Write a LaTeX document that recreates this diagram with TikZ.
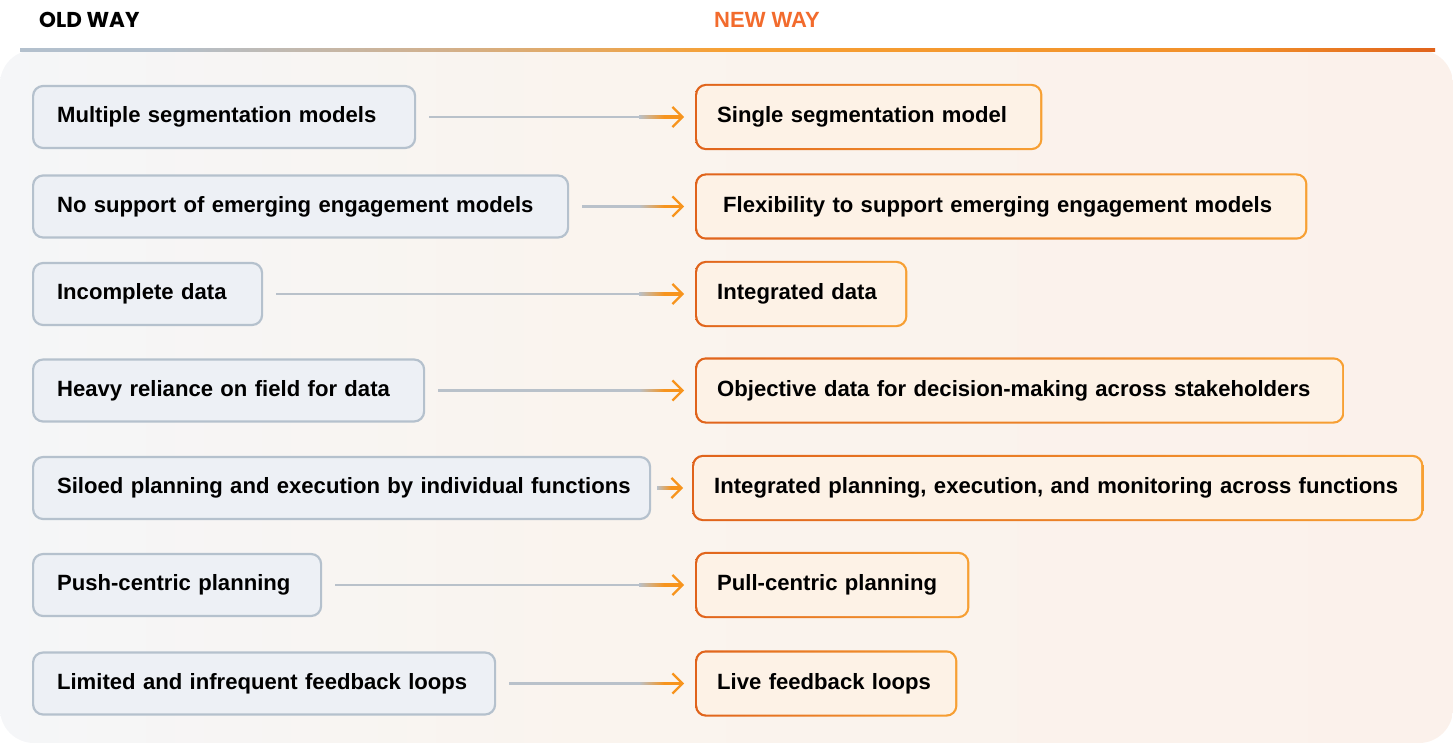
\documentclass[tikz,border=0pt]{standalone}
\usepackage{fontspec}
\setmainfont{Liberation Sans}
\newfontfamily\headfont{Poppins}
\usetikzlibrary{arrows.meta,calc}
\definecolor{panelL}{HTML}{F5F6F8}
\definecolor{panelM}{HTML}{FAF4EE}
\definecolor{panelR}{HTML}{FBF1EB}
\definecolor{lineG}{HTML}{B3C0CD}
\definecolor{lineT}{HTML}{D2B08C}
\definecolor{orgL}{HTML}{F7A033}
\definecolor{orgM}{HTML}{F1902A}
\definecolor{orgD}{HTML}{E0631B}
\definecolor{oldFill}{HTML}{EDF0F5}
\definecolor{oldDraw}{HTML}{B5C1CD}
\definecolor{newFill}{HTML}{FDF2E6}
\definecolor{arrG}{HTML}{B9C1CA}
\definecolor{arrO}{HTML}{F7941D}
\definecolor{newHead}{HTML}{F26B2D}
\pgfdeclarehorizontalshading{topline}{100bp}{color(0bp)=(lineG); color(30bp)=(lineG); color(40bp)=(lineT); color(50bp)=(orgL); color(68bp)=(orgM); color(75bp)=(orgD); color(100bp)=(orgD)}
\pgfdeclarehorizontalshading{panel}{100bp}{color(0bp)=(panelL); color(25bp)=(panelL); color(45bp)=(panelM); color(75bp)=(panelR); color(100bp)=(panelR)}
\pgfdeclarehorizontalshading{newborder}{100bp}{color(0bp)=(orgD); color(25bp)=(orgD); color(75bp)=(orgL); color(100bp)=(orgL)}
\pgfdeclarehorizontalshading{arrgrad}{100bp}{color(0bp)=(arrG); color(25bp)=(arrG); color(55bp)=(arrO); color(75bp)=(arrO); color(100bp)=(arrO)}
\pgfdeclarelayer{panellayer}
\pgfdeclarelayer{borderlayer}
\pgfsetlayers{panellayer,borderlayer,main}
\tikzset{
  boxtext/.style={font=\fontsize{22.1pt}{27pt}\selectfont\bfseries, text=black, align=left,
    minimum height=62pt, text height=16.2pt, text depth=4.4pt, anchor=west},
  oldbox/.style={boxtext, draw=oldDraw, fill=oldFill, line width=2.2pt, rounded corners=10pt,
    inner xsep=24pt, text width=#1},
  newbox/.style={boxtext, fill=newFill, rounded corners=9pt, inner xsep=20pt, text width=#1},
  conn/.style={draw=arrG, line width=2.2pt, -{Straight Barb[length=10pt,width=20pt,color=arrO]}},
}
\newcommand\newborder[1]{%
  \begin{pgfonlayer}{borderlayer}
  \shade[shading=newborder, rounded corners=11pt] ($(#1.south west)+(-2pt,-2pt)$) rectangle ($(#1.north east)+(2pt,2pt)$);
  \end{pgfonlayer}}
\newcommand\linkrow[5]{%
  \draw[conn] ([xshift=#3]#1.east) -- ([xshift=-#4]#2.west);
  \shade[shading=arrgrad] ([xshift=-#4-#5, yshift=-1.1pt]#2.west) rectangle ([xshift=-#4-3pt, yshift=1.1pt]#2.west);}
\begin{document}
\begin{tikzpicture}[x=1pt,y=-1pt]
\useasboundingbox (0,0) rectangle (1453,743);
\begin{pgfonlayer}{panellayer}
\shade[shading=panel, rounded corners=34pt] (0,50) rectangle (1453,743);
\end{pgfonlayer}
\shade[shading=topline] (20,48.9) rectangle (1435,51.1);
\node[anchor=west, font=\headfont\bfseries\fontsize{21.5pt}{24pt}\selectfont, inner sep=0pt] (oldh) at (39,20) {OLD WAY};
\node[font=\fontsize{22pt}{25pt}\selectfont\bfseries, text=newHead, inner sep=0pt] (newh) at (767,20) {NEW WAY};
% old way boxes
\node[oldbox=334pt] (L1) at (32,117) {\mbox{Multiple segmentation models}};
\node[oldbox=487pt] (L2) at (32,206.5) {\mbox{No support of emerging engagement models}};
\node[oldbox=181pt] (L3) at (32,294) {\mbox{Incomplete data}};
\node[oldbox=343pt] (L4) at (32,390.5) {\mbox{Heavy reliance on field for data}};
\node[oldbox=569pt] (L5) at (32,488) {\mbox{Siloed planning and execution by individual functions}};
\node[oldbox=240pt] (L6) at (32,585) {\mbox{Push-centric planning}};
\node[oldbox=414pt] (L7) at (32,683.5) {\mbox{Limited and infrequent feedback loops}};
% new way boxes
\node[newbox=303pt] (R1) at (697,117) {\mbox{Single segmentation model}};
\node[newbox=556pt, inner xsep=26pt] (R2) at (697,206.5) {\mbox{Flexibility to support emerging engagement models}};
\node[newbox=168pt] (R3) at (697,294) {\mbox{Integrated data}};
\node[newbox=605pt] (R4) at (697,390.5) {\mbox{Objective data for decision-making across stakeholders}};
\node[newbox=687pt] (R5) at (694,488) {\mbox{Integrated planning, execution, and monitoring across functions}};
\node[newbox=230pt] (R6) at (697,585) {\mbox{Pull-centric planning}};
\node[newbox=218pt] (R7) at (697,683.5) {\mbox{Live feedback loops}};
\newborder{R1}\newborder{R2}\newborder{R3}\newborder{R4}\newborder{R5}\newborder{R6}\newborder{R7}
% connectors
\linkrow{L1}{R1}{13pt}{13pt}{45pt}
\linkrow{L2}{R2}{13pt}{13pt}{45pt}
\linkrow{L3}{R3}{13pt}{13pt}{45pt}
\linkrow{L4}{R4}{13pt}{13pt}{45pt}
\linkrow{L5}{R5}{8pt}{11pt}{26pt}
\linkrow{L6}{R6}{13pt}{13pt}{45pt}
\linkrow{L7}{R7}{13pt}{13pt}{45pt}
\end{tikzpicture}
\end{document}
